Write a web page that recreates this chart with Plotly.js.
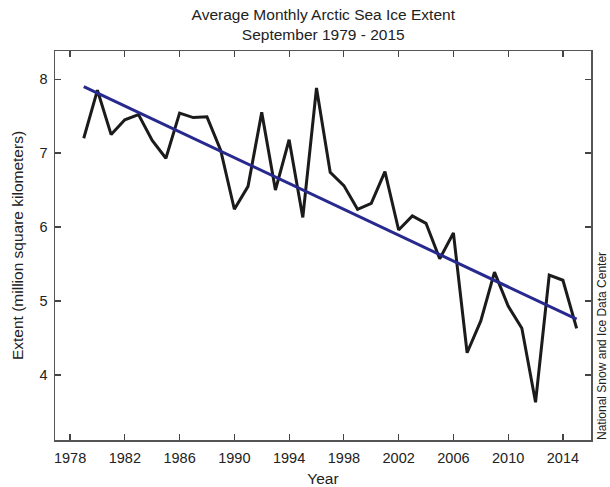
<!DOCTYPE html>
<html>
<head>
<meta charset="utf-8">
<script src="https://cdn.plot.ly/plotly-3.0.1.min.js"></script>
<style>html,body{margin:0;padding:0;background:#fff;}#chart{width:610px;height:487px;}</style>
</head>
<body>
<div id="chart"></div>
<script>
var years = [1979,1980,1981,1982,1983,1984,1985,1986,1987,1988,1989,1990,1991,1992,1993,1994,1995,1996,1997,1998,1999,2000,2001,2002,2003,2004,2005,2006,2007,2008,2009,2010,2011,2012,2013,2014,2015];
var extent = [7.20,7.85,7.25,7.45,7.52,7.17,6.93,7.54,7.48,7.49,7.04,6.24,6.55,7.55,6.50,7.18,6.13,7.88,6.74,6.56,6.24,6.32,6.75,5.96,6.15,6.05,5.57,5.92,4.30,4.73,5.39,4.93,4.63,3.63,5.35,5.28,4.63];
var xTicks = [1978,1982,1986,1990,1994,1998,2002,2006,2010,2014];
var yTicks = [4,5,6,7,8];

// least-squares trend from the data
var n = years.length, sx=0, sy=0, sxx=0, sxy=0;
for (var i=0;i<n;i++){sx+=years[i];sy+=extent[i];sxx+=years[i]*years[i];sxy+=years[i]*extent[i];}
var slope = (n*sxy - sx*sy)/(n*sxx - sx*sx);
var icpt = (sy - slope*sx)/n;
var trendX = [years[0], years[n-1]];
var trendY = trendX.map(function(x){return icpt + slope*x;});

var FONT = 'Liberation Sans, Arial, sans-serif';
var data = [
  {x: years, y: extent, type:'scatter', mode:'lines', line:{color:'#1b1b1b', width:3}},
  {x: trendX, y: trendY, type:'scatter', mode:'lines', line:{color:'#28298f', width:3}}
];
var axisCommon = {showgrid:false, zeroline:false, showline:true, linecolor:'#555', linewidth:1.5, mirror:'ticks', ticks:'inside', ticklen:6, tickwidth:1.2, tickcolor:'#444', tickfont:{family:FONT, size:14.5, color:'#222'}};
var layout = {
  width:610, height:487,
  margin:{l:55, r:19, t:51, b:47},
  paper_bgcolor:'#fff', plot_bgcolor:'#fff',
  showlegend:false,
  font:{family:FONT, color:'#222'},
  title:{text:'Average Monthly Arctic Sea Ice Extent<br>September 1979 - 2015', font:{family:FONT, size:15.5, color:'#222'}, x:0.53, xanchor:'center', yref:'container', y:1-20/487, yanchor:'middle'},
  xaxis: Object.assign({}, axisCommon, {range:[1976.9, 2016.05], tickvals:xTicks, ticktext:xTicks.map(String), ticklabelstandoff:4, title:{text:'Year', font:{family:FONT, size:15.5, color:'#222'}, standoff:8}}),
  yaxis: Object.assign({}, axisCommon, {range:[3.12, 8.38], tickvals:yTicks, ticktext:yTicks.map(String), ticklabelstandoff:3, title:{text:'Extent (million square kilometers)', font:{family:FONT, size:15.5, color:'#222'}, standoff:12}}),
  annotations:[{text:'National Snow and Ice Data Center', xref:'paper', yref:'paper', x:1, y:0, xanchor:'left', yanchor:'bottom', xshift:2, yshift:-2, textangle:-90, showarrow:false, font:{family:FONT, size:12, color:'#222'}}]
};
Plotly.newPlot('chart', data, layout, {displayModeBar:false, staticPlot:true});
</script>
</body>
</html>
